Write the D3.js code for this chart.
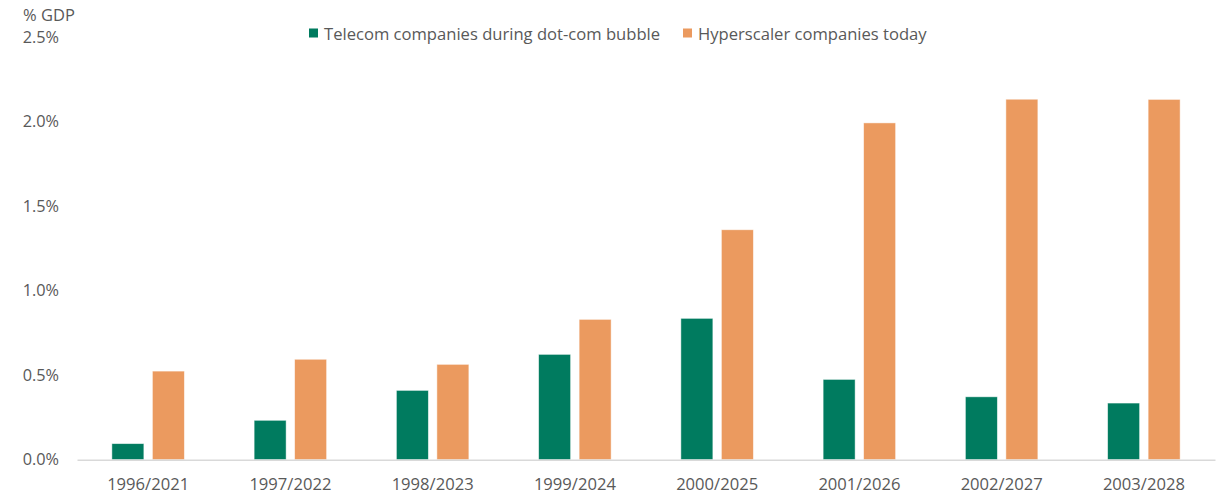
<!DOCTYPE html>
<html>
<head>
<meta charset="utf-8">
<script src="https://cdn.jsdelivr.net/npm/d3@7"></script>
<style>
  html, body { margin: 0; padding: 0; background: #fff; }
  svg { display: block; }
  text { font-family: "Open Sans", "Noto Sans", sans-serif; fill: #595959; }
</style>
</head>
<body>
<svg id="chart" width="1217" height="496"></svg>
<script>
const categories = ["1996/2021", "1997/2022", "1998/2023", "1999/2024", "2000/2025", "2001/2026", "2002/2027", "2003/2028"];
const seriesNames = ["Telecom companies during dot-com bubble", "Hyperscaler companies today"];
const telecom = [0.095, 0.233, 0.41, 0.623, 0.836, 0.475, 0.372, 0.335];
const hyperscaler = [0.524, 0.594, 0.564, 0.83, 1.36, 1.992, 2.132, 2.131];
const yTicks = [0, 0.5, 1.0, 1.5, 2.0, 2.5];
const colors = ["#007B5F", "#EB9A5F"];

const svg = d3.select("#chart");
const x0 = d3.scaleBand().domain(categories).range([77, 1215]).paddingInner(0).paddingOuter(0);
const x1 = d3.scaleBand().domain([0, 1]).range([0, x0.bandwidth()]).paddingInner(0.21).paddingOuter(0.861);
const y = d3.scaleLinear().domain([0, 2.5]).range([459.7, 37]);

// Y axis labels
const yAxis = d3.axisLeft(y).tickValues(yTicks).tickFormat(d => d3.format(".1f")(d) + "%").tickSize(0).tickPadding(0);
const yg = svg.append("g").attr("transform", "translate(59,0)").call(yAxis);
yg.select(".domain").remove();
yg.selectAll("text").attr("font-size", 16.3).style("font-family", "'Open Sans', sans-serif").attr("fill", "#595959");

svg.append("text").attr("x", 23).attr("y", 21).attr("font-size", 16.5).text("% GDP");

// bars
const data = categories.map((c, i) => ({ c, vals: [telecom[i], hyperscaler[i]] }));
const groups = svg.append("g").selectAll("g").data(data).join("g")
  .attr("transform", d => `translate(${x0(d.c)},0)`);
groups.selectAll("rect").data(d => d.vals.map((v, k) => ({ v, k }))).join("rect")
  .attr("x", d => x1(d.k))
  .attr("width", x1.bandwidth())
  .attr("y", d => y(d.v))
  .attr("height", d => y(0) - y(d.v))
  .attr("fill", d => colors[d.k])
  .attr("stroke", "#ffffff").attr("stroke-opacity", 0.6).attr("stroke-width", 0.8);

// x axis
const xAxis = d3.axisBottom(x0).tickSize(0).tickPadding(19);
const xg = svg.append("g").attr("transform", `translate(0,${y(0)})`).call(xAxis);
xg.select(".domain").attr("stroke", "#d9d9d9").attr("stroke-width", 1.5);
xg.selectAll("text").attr("font-size", 16.6).style("font-family", "'Open Sans', sans-serif").attr("fill", "#595959");

// legend
const legend = svg.append("g");
const legendPos = [309, 683];
seriesNames.forEach((n, i) => {
  legend.append("rect").attr("x", legendPos[i]).attr("y", 28.5).attr("width", 9).attr("height", 9).attr("fill", colors[i]);
  legend.append("text").attr("x", legendPos[i] + 15).attr("y", 39.5).attr("font-size", 16.6).text(n);
});
</script>
</body>
</html>
